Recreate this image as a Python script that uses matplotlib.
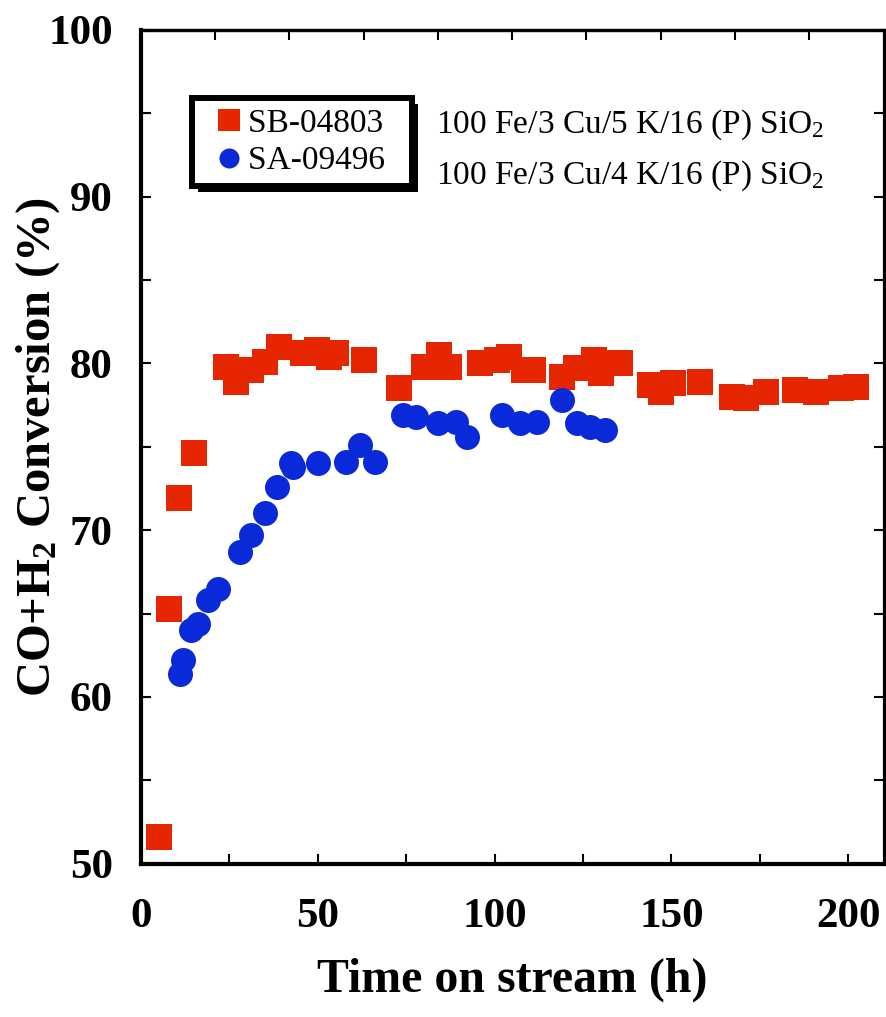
import numpy as np
import matplotlib
matplotlib.use('Agg')
import matplotlib.pyplot as plt
import matplotlib.patheffects as pe
from matplotlib.ticker import MultipleLocator, NullLocator

# values
sb_time = [5.1, 8.1, 10.9, 15.1, 24.1, 27.0, 31.1, 35.0, 39.0, 45.9, 49.9, 53.1, 55.2,
           63.0, 73.1, 80.0, 84.2, 87.2, 96.0, 100.7, 104.1, 108.2, 110.9, 119.1, 123.1,
           128.1, 130.0, 135.4, 144.0, 147.1, 150.5, 158.1, 167.2, 171.2, 176.8, 184.8,
           191.0, 197.9, 202.1]
sb_conv = [51.6, 65.3, 71.9, 74.6, 79.8, 78.9, 79.6, 80.1, 81.0, 80.6, 80.8, 80.4, 80.6,
           80.2, 78.5, 79.8, 80.5, 79.8, 80.0, 80.2, 80.4, 79.6, 79.6, 79.2, 79.7,
           80.2, 79.4, 80.0, 78.7, 78.3, 78.8, 78.9, 78.0, 77.9, 78.3, 78.4,
           78.3, 78.5, 78.6]

sa_time = [11.1, 12.0, 14.1, 16.1, 18.9, 21.9, 28.1, 31.1, 35.1, 38.4, 42.4, 43.1, 50.2,
           58.0, 61.9, 66.2, 74.0, 77.9, 84.1, 89.1, 92.1, 102.0, 107.1, 111.9, 119.1,
           123.2, 126.9, 131.2]
sa_conv = [61.4, 62.2, 64.0, 64.4, 65.8, 66.5, 68.7, 69.7, 71.0, 72.6, 74.0, 73.8, 74.0,
           74.1, 75.1, 74.1, 76.9, 76.8, 76.4, 76.5, 75.6, 76.9, 76.4, 76.5, 77.8,
           76.4, 76.2, 76.0]

labels = ['SB-04803', 'SA-09496']
compositions = ['100 Fe/3 Cu/5 K/16 (P) SiO$_2$', '100 Fe/3 Cu/4 K/16 (P) SiO$_2$']

red = '#e62600'
blue = '#0a2ad9'

plt.rcParams['font.family'] = ['Liberation Serif', 'DejaVu Serif']
plt.rcParams['mathtext.fontset'] = 'custom'
plt.rcParams['mathtext.rm'] = 'Liberation Serif'
plt.rcParams['mathtext.default'] = 'regular'

fig = plt.figure(figsize=(8.86, 10.17), dpi=100)
ax = fig.add_axes([0.1588, 0.1507, 0.8386, 0.8201])

ax.plot(sb_time, sb_conv, 's', color=red, markersize=19.4, markeredgewidth=0, label=labels[0] + '  ')
ax.plot(sa_time, sa_conv, 'o', color=blue, markersize=18, markeredgewidth=0, label=labels[1] + '  ')

ax.set_xlim(0, 210)
ax.set_ylim(50, 100)

ax.xaxis.set_major_locator(MultipleLocator(50))
ax.xaxis.set_minor_locator(MultipleLocator(25))
ax.yaxis.set_major_locator(MultipleLocator(10))
ax.yaxis.set_minor_locator(MultipleLocator(5))

ax.tick_params(axis='both', which='both', direction='in', length=7, width=1.5,
               top=False, right=True, labelsize=31)
ax.tick_params(axis='x', which='both', pad=25)
ax.tick_params(axis='y', which='both', pad=20)
for t in ax.get_xticklabels() + ax.get_yticklabels():
    t.set_fontweight('bold')

for side in ['left', 'bottom']:
    ax.spines[side].set_linewidth(3)
for side in ['top', 'right']:
    ax.spines[side].set_linewidth(2.3)

# top axis has its own tick spacing (range split into 10)
top = ax.secondary_xaxis('top')
top.set_xticks(np.arange(21, 210, 21))
top.xaxis.set_minor_locator(NullLocator())
top.tick_params(axis='x', direction='in', length=7, width=1.5, labeltop=False)
top.spines['top'].set_linewidth(2.3)

ax.set_xlabel('Time on stream (h)', fontsize=34.5, fontweight='bold')
ax.set_ylabel('CO+H$_2$ Conversion (%)', fontsize=35, fontweight='bold')
ax.xaxis.set_label_coords(0.5, -0.112)
ax.yaxis.set_label_coords(-0.106, 0.5)

leg = ax.legend(loc='upper left', bbox_to_anchor=(0.0694, 0.9181), borderaxespad=0,
                fontsize=24, markerscale=0.8, handlelength=1.6, handletextpad=-0.23,
                borderpad=0.3, labelspacing=0.215, fancybox=False, framealpha=1,
                edgecolor='black')
frame = leg.get_frame()
frame.set_linewidth(4.3)
frame.set_path_effects([pe.SimplePatchShadow(offset=(4.3, -4.3), shadow_rgbFace='black', alpha=1.0),
                        pe.Normal()])

ax.text(83.5, 93.8, compositions[0], fontsize=24, ha='left', va='baseline')
ax.text(83.5, 90.75, compositions[1], fontsize=24, ha='left', va='baseline')

fig.savefig('out.png', dpi=100)
